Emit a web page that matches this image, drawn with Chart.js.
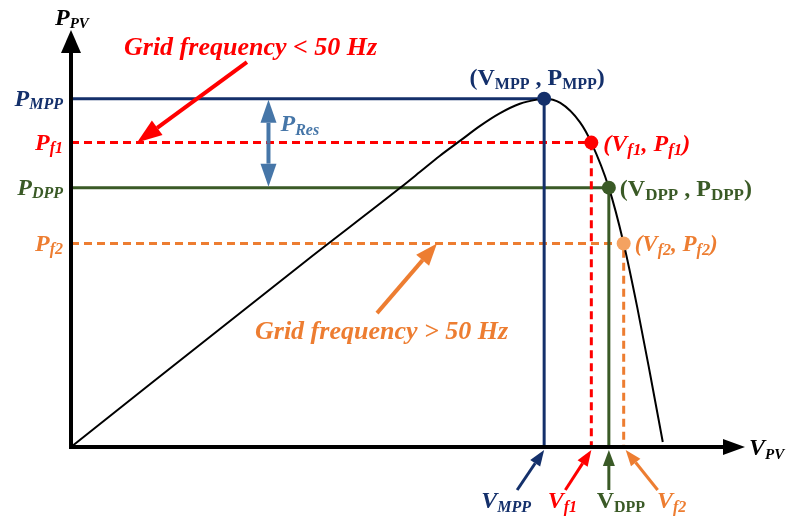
<!DOCTYPE html>
<html>
<head>
<meta charset="utf-8">
<script src="https://cdn.jsdelivr.net/npm/chart.js@4/dist/chart.umd.min.js"></script>
<style>
  html, body { margin: 0; padding: 0; background: #fff; }
  #wrap { width: 788px; height: 519px; }
</style>
</head>
<body>
<div id="wrap"><canvas id="c" width="788" height="519"></canvas></div>
<script>
// P-V characteristic of the PV array (normalised voltage / power units)
const curveV = [0, 35.0, 48.8, 51.8, 54.7, 57.7, 60.7, 63.6, 66.6, 69.1, 70.2, 72.6, 75.5, 77.2, 79.8, 82.0, 84.0, 85.9, 87.8];
const curveP = [0, 44.8, 62.1, 66.0, 69.8, 73.4, 77.0, 80.0, 82.3, 83.3, 83.5, 82.5, 77.9, 73.0, 62.2, 48.8, 33.6, 17.7, 1.2];

// Operating points on the curve: MPP, f1 (under-frequency), DPP, f2 (over-frequency)
const opKeys = ['MPP', 'f1', 'DPP', 'f2'];
const opV = [70.2, 77.2, 79.8, 82.0];
const opP = [83.5, 73.0, 62.2, 48.8];

// Styling of each operating point
const NAVY = '#14306b', RED = '#ff0000', GREEN = '#3a5a26', ORANGE = '#ed7d31', STEEL = '#4676a8';
const opColor = [NAVY, RED, GREEN, ORANGE];
const opDot = [NAVY, RED, GREEN, '#f4a261'];
const opDash = [[], [8, 5], [], [8, 5]];
const opItalic = [true, true, false, true];

const SERIF = '"Liberation Serif", "Times New Roman", serif';

const refLineSets = opKeys.map((k, i) => ({
  label: 'ref ' + k,
  data: [{ x: 0, y: opP[i] }, { x: opV[i], y: opP[i] }, { x: opV[i], y: 0 }],
  showLine: true,
  borderColor: opColor[i],
  borderWidth: 3,
  borderDash: opDash[i],
  pointRadius: 0,
  fill: false,
  order: 3,
  clip: false
}));

const curveSet = {
  label: 'P-V curve',
  data: curveV.map((v, i) => ({ x: v, y: curveP[i] })),
  showLine: true,
  borderColor: '#000',
  borderWidth: 2,
  pointRadius: 0,
  cubicInterpolationMode: 'monotone',
  fill: false,
  order: 2,
  clip: false
};

const pointSet = {
  label: 'operating points',
  data: opV.map((v, i) => ({ x: v, y: opP[i] })),
  showLine: false,
  pointRadius: 7,
  pointBorderWidth: 0,
  pointBackgroundColor: opDot,
  order: 1,
  clip: false
};

// Rich text with subscripts: parts = [text, size, bold, italic, dy]
function rich(ctx, parts, x, y, align, color) {
  let w = 0;
  const fonts = parts.map(p => `${p[3] ? 'italic ' : ''}${p[2] ? 'bold ' : ''}${p[1]}px ${SERIF}`);
  parts.forEach((p, i) => { ctx.font = fonts[i]; w += ctx.measureText(p[0]).width; });
  let cx = align === 'right' ? x - w : align === 'center' ? x - w / 2 : x;
  ctx.fillStyle = color;
  ctx.textAlign = 'left';
  ctx.textBaseline = 'alphabetic';
  parts.forEach((p, i) => {
    ctx.font = fonts[i];
    ctx.fillText(p[0], cx, y + (p[4] || 0));
    cx += ctx.measureText(p[0]).width;
  });
}

function arrow(ctx, x1, y1, x2, y2, color, lw, hl, hw) {
  const a = Math.atan2(y2 - y1, x2 - x1);
  const bx = x2 - hl * Math.cos(a), by = y2 - hl * Math.sin(a);
  ctx.strokeStyle = color; ctx.fillStyle = color; ctx.lineWidth = lw; ctx.lineCap = 'butt';
  ctx.beginPath(); ctx.moveTo(x1, y1); ctx.lineTo(bx, by); ctx.stroke();
  ctx.beginPath();
  ctx.moveTo(x2, y2);
  ctx.lineTo(bx + hw / 2 * Math.sin(a), by - hw / 2 * Math.cos(a));
  ctx.lineTo(bx - hw / 2 * Math.sin(a), by + hw / 2 * Math.cos(a));
  ctx.closePath(); ctx.fill();
}

const decorations = {
  id: 'decorations',
  afterDraw(chart) {
    const ctx = chart.ctx;
    const xs = chart.scales.x, ys = chart.scales.y;
    const X = v => xs.getPixelForValue(v), Y = v => ys.getPixelForValue(v);
    const x0 = X(0), y0 = Y(0);
    const top = chart.chartArea.top, right = chart.chartArea.right;
    ctx.save();

    // Axes with arrow heads
    ctx.strokeStyle = '#000'; ctx.fillStyle = '#000'; ctx.lineWidth = 4; ctx.lineCap = 'square';
    ctx.beginPath(); ctx.moveTo(x0, y0); ctx.lineTo(x0, top + 20); ctx.stroke();
    ctx.beginPath(); ctx.moveTo(x0, y0); ctx.lineTo(right - 20, y0); ctx.stroke();
    ctx.beginPath(); ctx.moveTo(x0, top); ctx.lineTo(x0 - 10, top + 23); ctx.lineTo(x0 + 10, top + 23); ctx.closePath(); ctx.fill();
    ctx.beginPath(); ctx.moveTo(right, y0); ctx.lineTo(right - 22, y0 - 8); ctx.lineTo(right - 22, y0 + 8); ctx.closePath(); ctx.fill();

    // Axis titles
    rich(ctx, [['P', 24, true, true], ['PV', 15, true, true, 3]], x0 - 16, top - 5, 'left', '#000');
    rich(ctx, [['V', 24, true, true], ['PV', 15, true, true, 4]], right + 4, y0 + 8, 'left', '#000');

    // Power labels on the vertical axis
    opKeys.forEach((k, i) => {
      rich(ctx, [['P', 24, true, true], [k, 16, true, true, 3]], x0 - 8, Y(opP[i]) + 7, 'right', opColor[i]);
    });

    // Reserve power double arrow between P_MPP and P_DPP
    const rx = X(29.3);
    const ym = Y(opP[0]), yd = Y(opP[2]), yc = (ym + yd) / 2;
    arrow(ctx, rx, yc, rx, ym + 1, STEEL, 4, 23, 16);
    arrow(ctx, rx, yc, rx, yd - 1, STEEL, 4, 23, 16);
    rich(ctx, [['P', 24, true, true], ['Res', 16, true, true, 4]], rx + 12, Y(opP[0]) + 32, 'left', STEEL);

    // Frequency annotations
    ctx.font = `italic bold 26px ${SERIF}`;
    ctx.fillStyle = RED; ctx.textAlign = 'left'; ctx.textBaseline = 'alphabetic';
    ctx.fillText('Grid frequency < 50 Hz', 124, 55);
    arrow(ctx, X(26.1), Y(92.3), X(9.8), Y(opP[1]), RED, 4, 25, 18);

    ctx.fillStyle = ORANGE;
    ctx.fillText('Grid frequency > 50 Hz', 255, 339);
    arrow(ctx, X(45.4), Y(32.1), X(54.3), Y(opP[3]), ORANGE, 4, 22, 17);

    // Operating point labels
    const pm = [X(opV[0]), Y(opP[0])];
    rich(ctx, [['(V', 24, true, false], ['MPP', 16, true, false, 4], [' , P', 24, true, false], ['MPP', 16, true, false, 4], [')', 24, true, false]],
      pm[0] - 7, pm[1] - 14, 'center', NAVY);
    const p1 = [X(opV[1]), Y(opP[1])];
    rich(ctx, [['(V', 24, true, true], ['f1', 17, true, true, 4], [', P', 24, true, true], ['f1', 17, true, true, 4], [')', 24, true, true]],
      p1[0] + 12, p1[1] + 8, 'left', RED);
    const pd = [X(opV[2]), Y(opP[2])];
    rich(ctx, [['(V', 24, true, false], ['DPP', 17, true, false, 4], [' , P', 24, true, false], ['DPP', 17, true, false, 4], [')', 24, true, false]],
      pd[0] + 11, pd[1] + 8, 'left', GREEN);
    const p2 = [X(opV[3]), Y(opP[3])];
    rich(ctx, [['(V', 23, true, true], ['f2', 16, true, true, 4], [', P', 23, true, true], ['f2', 16, true, true, 4], [')', 23, true, true]],
      p2[0] + 11, p2[1] + 7, 'left', ORANGE);

    // Voltage markers under the horizontal axis
    const tailDx = [-27, -26, 0, 34];
    const labelDx = [-38, -29, 12, 48];
    opKeys.forEach((k, i) => {
      const vx = X(opV[i]);
      arrow(ctx, vx + tailDx[i], y0 + 43, vx + (i === 3 ? 2 : 0), y0 + 3, opColor[i], 3, 16, 12);
      rich(ctx, [['V', 24, true, opItalic[i]], [k, 16, true, opItalic[i], 4]], vx + labelDx[i], y0 + 61, 'center', opColor[i]);
    });

    ctx.restore();
  }
};

new Chart(document.getElementById('c'), {
  type: 'scatter',
  data: { datasets: [pointSet, curveSet, ...refLineSets] },
  options: {
    responsive: false,
    animation: false,
    devicePixelRatio: 1,
    layout: { padding: { left: 71, right: 43, top: 30, bottom: 72 } },
    scales: {
      x: { type: 'linear', min: 0, max: 100, display: false },
      y: { type: 'linear', min: 0, max: 100, display: false }
    },
    plugins: { legend: { display: false }, tooltip: { enabled: false } }
  },
  plugins: [decorations]
});
</script>
</body>
</html>
